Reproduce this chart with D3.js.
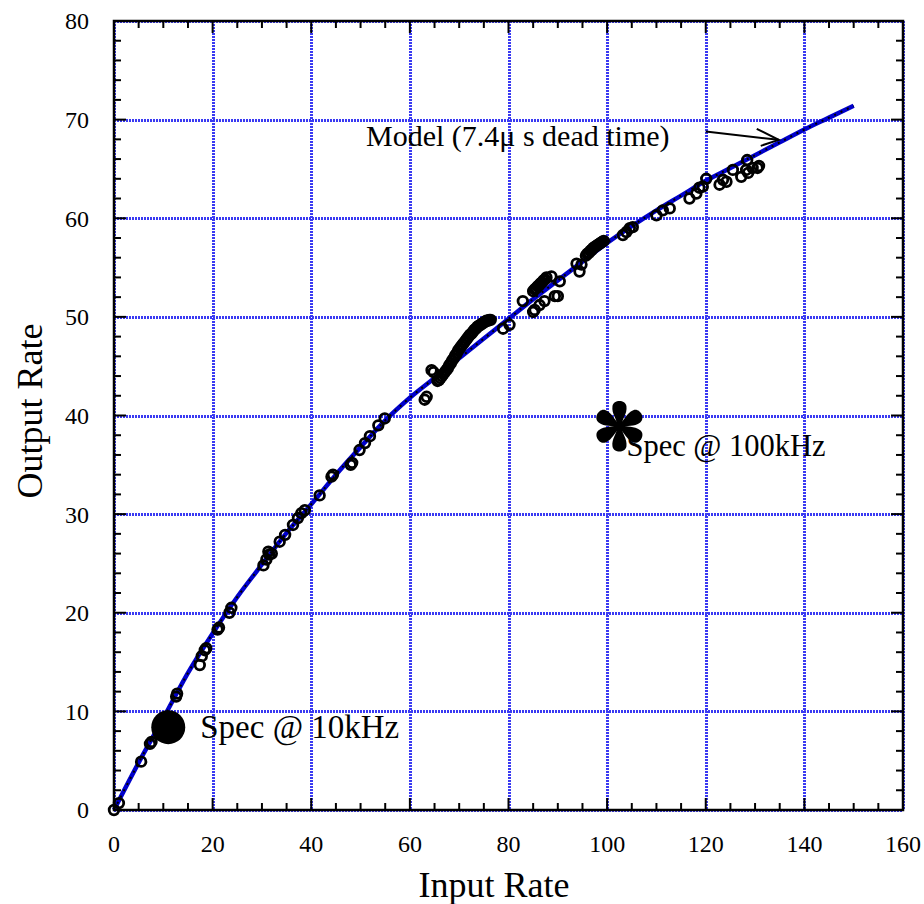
<!DOCTYPE html>
<html>
<head>
<meta charset="utf-8">
<script src="https://cdn.jsdelivr.net/npm/d3@7/dist/d3.min.js"></script>
<style>
    body { margin: 0; background: #fff; }
    svg text { font-family: "Liberation Serif", "Times New Roman", serif; fill: #000; }
</style>
</head>
<body>
<div id="graphDiv"></div>
<script>
// model curve (7.4us dead time)
var modelIn = [0, 5, 10, 15, 20, 25, 30, 35, 40, 45, 50, 55, 60, 65, 70, 75, 80, 85, 90, 95,
    100, 105, 110, 115, 120, 125, 130, 135, 140, 145, 150];
var modelOut = [0, 4.8, 9.3, 13.9, 17.9, 21.6, 24.9, 28.1, 31.0, 34.0, 36.8, 39.5, 41.8, 43.8, 45.8, 47.8,
    49.8, 51.8, 53.7, 55.6, 57.5, 59.2, 60.8, 62.3, 63.8, 65.1, 66.4, 67.7, 69.0, 70.2, 71.4];

// measured points (the dense runs near 66-76, 85-88 and 96-99 read as solid bands)
var measIn = [0, 1, 5.5, 7.3, 7.6, 12.6, 12.8, 17.4, 17.8, 18.4, 18.7, 21.0, 21.3, 23.4, 23.8,
    30.3, 30.9, 31.3, 31.5, 32.0, 33.6, 34.7, 36.3, 37.3, 38.0, 38.7, 41.7, 44.1, 44.4, 48.0, 48.3,
    49.8, 50.9, 51.9, 53.6, 54.9, 63.0, 63.4, 64.4, 64.8,
    65.6, 65.9, 66.2, 66.5, 66.8, 67.1, 67.4, 67.7, 68.0, 68.3, 68.6, 68.9, 69.2, 69.5, 69.8, 70.1,
    70.4, 70.7, 71.0, 71.3, 71.6, 71.9, 72.2, 72.5, 72.8, 73.1, 73.4, 73.7, 74.0, 74.3, 74.6, 74.9,
    75.2, 75.5, 75.8, 76.1, 76.4,
    78.9, 80.2, 82.9, 85.0, 85.3, 86.3, 87.3, 89.4, 90.0, 88.7, 90.4,
    85.0, 85.3, 85.6, 85.9, 86.2, 86.5, 86.8, 87.1, 87.4, 87.7,
    94.4, 93.8, 94.8,
    95.7, 96.0, 96.3, 96.6, 96.9, 97.2, 97.5, 97.8, 98.1, 98.4, 98.7, 99.0, 99.3,
    103.2, 103.9, 104.6, 105.2, 110.0, 111.3, 112.7, 116.7, 118.1, 118.7, 119.4, 120.1,
    122.8, 123.5, 124.2, 125.5, 127.2, 128.2, 128.4, 128.6, 129.5, 130.5, 130.8];
var measOut = [0, 0.7, 4.9, 6.7, 6.9, 11.5, 11.8, 14.7, 15.6, 16.2, 16.4, 18.3, 18.5, 20.0, 20.5,
    24.8, 25.4, 26.2, 25.9, 26.0, 27.2, 27.9, 28.9, 29.6, 30.1, 30.4, 31.9, 33.8, 34.0, 35.0, 35.2,
    36.5, 37.2, 37.9, 39.0, 39.7, 41.6, 41.9, 44.6, 44.4,
    43.5, 43.6, 43.8, 44.0, 44.2, 44.4, 44.6, 44.8, 45.1, 45.3, 45.6, 45.8, 46.1, 46.3, 46.6, 46.8,
    47.0, 47.2, 47.4, 47.6, 47.8, 48.0, 48.2, 48.3, 48.5, 48.7, 48.8, 49.0, 49.1, 49.2, 49.3, 49.4,
    49.5, 49.6, 49.6, 49.7, 49.7,
    48.8, 49.2, 51.6, 50.5, 50.7, 51.2, 51.6, 52.1, 52.1, 54.1, 53.6,
    52.6, 52.8, 52.9, 53.1, 53.2, 53.4, 53.5, 53.7, 53.8, 54.0,
    54.6, 55.4, 55.3,
    56.2, 56.4, 56.5, 56.7, 56.8, 57.0, 57.1, 57.2, 57.3, 57.4, 57.5, 57.6, 57.7,
    58.3, 58.6, 59.0, 59.1, 60.3, 60.8, 61.0, 62.0, 62.5, 63.1, 63.2, 64.0,
    63.4, 63.9, 63.7, 64.9, 64.2, 64.9, 65.9, 64.6, 65.1, 65.1, 65.3];

// spec markers
var spec10 = {x: 11, y: 8.4, label: "Spec @ 10kHz"};
var spec100 = {x: 102.5, y: 38.9, label: "Spec @ 100kHz"};

var xTicks = [0, 20, 40, 60, 80, 100, 120, 140, 160];
var yTicks = [0, 10, 20, 30, 40, 50, 60, 70, 80];

(function () {
    var W = 924, H = 904;
    // plot box (px)
    var pL = 114, pR = 903, pT = 21, pB = 810;

    var xScale = d3.scaleLinear().domain([0, 160]).range([pL, pR]);
    var yScale = d3.scaleLinear().domain([0, 80]).range([pB, pT]);

    var svg = d3.select("#graphDiv").append("svg")
        .attr("width", W)
        .attr("height", H);

    // grid lines, snapped so the 3px dotted stroke covers whole pixels
    var grid = svg.append("g").attr("class", "grid")
        .attr("stroke", "#3a3af2")
        .attr("stroke-width", 3)
        .attr("stroke-dasharray", "2,1");
    xTicks.forEach(function (t) {
        var x = Math.round(xScale(t)) + 0.5;
        grid.append("line").attr("x1", x).attr("x2", x).attr("y1", pT).attr("y2", pB);
    });
    yTicks.forEach(function (t) {
        var y = Math.round(yScale(t)) + 0.5;
        grid.append("line").attr("y1", y).attr("y2", y).attr("x1", pL).attr("x2", pR);
    });

    // model curve : blue line with a dotted black line on top
    var lineFunc = d3.line()
        .curve(d3.curveMonotoneX)
        .x(function (d) { return xScale(d[0]); })
        .y(function (d) { return yScale(d[1]); });
    var modelData = modelIn.map(function (v, i) { return [v, modelOut[i]]; });

    svg.append("path")
        .attr("d", lineFunc(modelData))
        .attr("fill", "none")
        .attr("stroke", "#0000cc")
        .attr("stroke-width", 4.5);
    svg.append("path")
        .attr("d", lineFunc(modelData))
        .attr("fill", "none")
        .attr("stroke", "#000")
        .attr("stroke-width", 2)
        .attr("stroke-dasharray", "2,5");

    // measured points, open rings (overlaps merge into solid runs)
    svg.append("g").attr("class", "points")
        .selectAll("circle")
        .data(measIn.map(function (v, i) { return [v, measOut[i]]; }))
        .enter().append("circle")
        .attr("cx", function (d) { return xScale(d[0]); })
        .attr("cy", function (d) { return yScale(d[1]); })
        .attr("r", 4.8)
        .attr("fill", "none")
        .attr("stroke", "#000")
        .attr("stroke-width", 2.8);

    // frame
    svg.append("rect")
        .attr("x", pL).attr("y", pT)
        .attr("width", pR - pL).attr("height", pB - pT)
        .attr("fill", "none")
        .attr("stroke", "#000")
        .attr("stroke-width", 2.5);

    // ticks, inward on all four sides
    var ticks = svg.append("g").attr("stroke", "#000").attr("stroke-width", 2);
    d3.range(0, 161, 5).forEach(function (t) {
        var len = (t % 20 === 0) ? 12 : 7, x = xScale(t);
        ticks.append("line").attr("x1", x).attr("x2", x).attr("y1", pB).attr("y2", pB - len);
        ticks.append("line").attr("x1", x).attr("x2", x).attr("y1", pT).attr("y2", pT + len);
    });
    d3.range(0, 81, 2).forEach(function (t) {
        var len = (t % 10 === 0) ? 12 : 7, y = yScale(t);
        ticks.append("line").attr("y1", y).attr("y2", y).attr("x1", pL).attr("x2", pL + len);
        ticks.append("line").attr("y1", y).attr("y2", y).attr("x1", pR).attr("x2", pR - len);
    });

    // tick labels
    svg.append("g").selectAll("text")
        .data(xTicks).enter().append("text")
        .attr("x", function (d) { return xScale(d); })
        .attr("y", pB + 42)
        .attr("text-anchor", "middle")
        .attr("font-size", 24)
        .text(function (d) { return d; });
    svg.append("g").selectAll("text")
        .data(yTicks).enter().append("text")
        .attr("x", pL - 25)
        .attr("y", function (d) { return yScale(d); })
        .attr("dy", "0.35em")
        .attr("text-anchor", "end")
        .attr("font-size", 24)
        .text(function (d) { return d; });

    // axis labels
    svg.append("text")
        .attr("x", 494)
        .attr("y", 897)
        .attr("text-anchor", "middle")
        .attr("font-size", 36)
        .text("Input Rate");
    svg.append("text")
        .attr("transform", "translate(42,411) rotate(-90)")
        .attr("text-anchor", "middle")
        .attr("font-size", 36)
        .text("Output Rate");

    // spec @ 10kHz : big filled dot
    svg.append("circle")
        .attr("cx", xScale(spec10.x))
        .attr("cy", yScale(spec10.y))
        .attr("r", 17)
        .attr("fill", "#000");
    svg.append("text")
        .attr("x", xScale(spec10.x) + 32)
        .attr("y", yScale(spec10.y) + 11)
        .attr("font-size", 33)
        .text(spec10.label);

    // spec @ 100kHz : six-petal asterisk
    var star = svg.append("g")
        .attr("transform", "translate(" + xScale(spec100.x) + "," + yScale(spec100.y) + ")");
    d3.range(6).forEach(function (i) {
        star.append("path")
            .attr("transform", "rotate(" + (i * 60 - 90) + ")")
            .attr("d", "M0,-2 C8,-2.5 12,-8 20,-7 C27,-6 27,6 20,7 C12,8 8,2.5 0,2 Z")
            .attr("fill", "#000");
    });
    star.append("circle").attr("r", 4.5).attr("fill", "#000");
    svg.append("text")
        .attr("x", xScale(spec100.x) + 7)
        .attr("y", yScale(spec100.y) + 30)
        .attr("font-size", 30.5)
        .text(spec100.label);

    // model annotation with arrow
    svg.append("text")
        .attr("x", 366)
        .attr("y", 146)
        .attr("font-size", 30)
        .text("Model (7.4\u03bc s dead time)");
    var ax1 = xScale(120), ay1 = yScale(68.8), ax2 = xScale(134.8), ay2 = yScale(67.95);
    var arrow = svg.append("g").attr("stroke", "#000").attr("stroke-width", 2).attr("fill", "none");
    arrow.append("line").attr("x1", ax1).attr("y1", ay1).attr("x2", ax2).attr("y2", ay2);
    arrow.append("path")
        .attr("d", "M" + (ax2 - 22) + "," + (ay2 - 11) + " L" + ax2 + "," + ay2 + " L" + (ax2 - 18) + "," + (ay2 + 6));
})();
</script>
</body>
</html>
